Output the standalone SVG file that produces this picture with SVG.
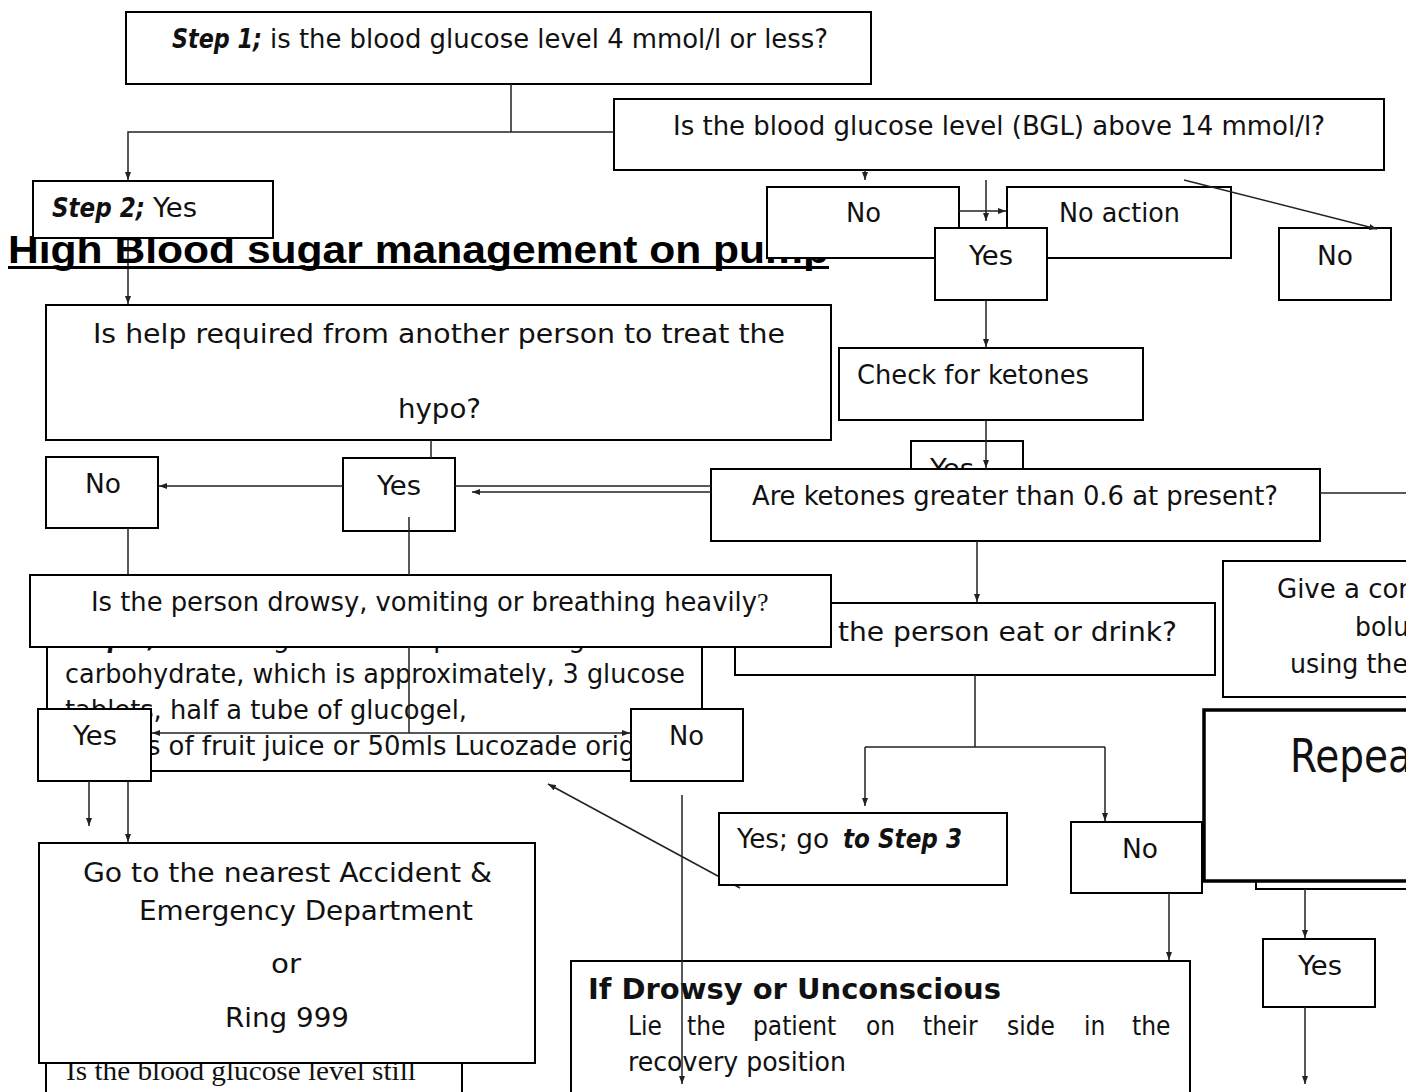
<svg xmlns="http://www.w3.org/2000/svg" width="1406" height="1092" viewBox="0 0 1406 1092">
<defs>
<style>
.box{fill:#fff;stroke:#000;stroke-width:2}
.thick{stroke-width:3.5}
.t{font-family:"DejaVu Sans Condensed","DejaVu Sans",sans-serif;font-size:26px;fill:#111}
.bi{font-weight:bold;font-style:italic}
.b{font-weight:bold}
.serif{font-family:"Liberation Serif",serif}
.c{fill:none;stroke:#222;stroke-width:1.5}
.title{font-family:"Liberation Sans",Arial,sans-serif;font-weight:bold;font-size:38px;fill:#000}
</style>
<marker id="arr" viewBox="0 0 8 6" refX="8" refY="3" markerWidth="8" markerHeight="6" markerUnits="userSpaceOnUse" orient="auto-start-reverse">
<path d="M0,0 L8,3 L0,6 z" fill="#222"/>
</marker>
</defs>
<rect width="1406" height="1092" fill="#fff"/>

<g id="connectors-under">
<path class="c" d="M128,238 V304" marker-end="url(#arr)"/>
<path class="c" d="M740,888 L548,784" marker-end="url(#arr)"/>
</g>

<g id="heading">
<text class="title" x="8" y="263" textLength="821" lengthAdjust="spacingAndGlyphs">High Blood sugar management on pump</text>
<rect x="8" y="266" width="821" height="3" fill="#000"/>
</g>

<g id="step1"><rect class="box" x="126" y="12" width="745" height="72"/>
<text class="t" y="48"><tspan class="bi" x="172" textLength="90" lengthAdjust="spacingAndGlyphs">Step 1;</tspan><tspan x="270" textLength="558" lengthAdjust="spacingAndGlyphs">is the blood glucose level 4 mmol/l or less?</tspan></text></g>

<g id="bgl"><rect class="box" x="614" y="99" width="770" height="71"/>
<text class="t" x="673" y="135" textLength="652" lengthAdjust="spacingAndGlyphs">Is the blood glucose level (BGL) above 14 mmol/l?</text></g>

<g id="step2"><rect class="box" x="33" y="181" width="240" height="57"/>
<text class="t" y="217"><tspan class="bi" x="52" textLength="93" lengthAdjust="spacingAndGlyphs">Step 2;</tspan><tspan x="153" textLength="44" lengthAdjust="spacingAndGlyphs">Yes</tspan></text></g>

<g id="no-top"><rect class="box" x="767" y="187" width="192" height="71"/>
<text class="t" x="846" y="222" textLength="35" lengthAdjust="spacingAndGlyphs">No</text></g>

<g id="no-action"><rect class="box" x="1007" y="187" width="224" height="71"/>
<text class="t" x="1059" y="222" textLength="121" lengthAdjust="spacingAndGlyphs">No action</text></g>

<g id="yes-top"><rect class="box" x="935" y="228" width="112" height="72"/>
<text class="t" x="969" y="265" textLength="44" lengthAdjust="spacingAndGlyphs">Yes</text></g>

<g id="no-right"><rect class="box" x="1279" y="228" width="112" height="72"/>
<text class="t" x="1317" y="265" textLength="36" lengthAdjust="spacingAndGlyphs">No</text></g>

<g id="help"><rect class="box" x="46" y="305" width="785" height="135"/>
<text class="t" x="93" y="343" textLength="692" lengthAdjust="spacingAndGlyphs">Is help required from another person to treat the</text>
<text class="t" x="398" y="418" textLength="83" lengthAdjust="spacingAndGlyphs">hypo?</text></g>

<g id="check-ketones"><rect class="box" x="839" y="348" width="304" height="72"/>
<text class="t" x="857" y="384" textLength="232" lengthAdjust="spacingAndGlyphs">Check for ketones</text></g>

<g id="no-left"><rect class="box" x="46" y="457" width="112" height="71"/>
<text class="t" x="85" y="493" textLength="36" lengthAdjust="spacingAndGlyphs">No</text></g>

<g id="yes-left"><rect class="box" x="343" y="458" width="112" height="73"/>
<text class="t" x="377" y="495" textLength="44" lengthAdjust="spacingAndGlyphs">Yes</text></g>

<g id="yes-hidden"><rect class="box" x="911" y="441" width="112" height="60"/>
<text class="t" x="930" y="478" textLength="44" lengthAdjust="spacingAndGlyphs">Yes</text></g>

<g id="ketones"><rect class="box" x="711" y="469" width="609" height="72"/>
<text class="t" x="752" y="505" textLength="526" lengthAdjust="spacingAndGlyphs">Are ketones greater than 0.6 at present?</text></g>

<g id="treatment"><rect class="box" x="47" y="620" width="655" height="151"/>
<text class="t" y="647"><tspan class="bi" x="65" textLength="92" lengthAdjust="spacingAndGlyphs">Step 3;</tspan><tspan x="165" textLength="420" lengthAdjust="spacingAndGlyphs">take 15 grams of a quick acting</tspan></text>
<text class="t" x="65" y="683" textLength="620" lengthAdjust="spacingAndGlyphs">carbohydrate, which is approximately, 3 glucose</text>
<text class="t" x="65" y="719" textLength="402" lengthAdjust="spacingAndGlyphs">tablets, half a tube of glucogel,</text>
<text class="t" x="65" y="755" textLength="617" lengthAdjust="spacingAndGlyphs">150mls of fruit juice or 50mls Lucozade original</text></g>

<g id="eat"><rect class="box" x="735" y="603" width="480" height="72"/>
<text class="t" x="838" y="641" textLength="339" lengthAdjust="spacingAndGlyphs">the person eat or drink?</text></g>

<g id="drowsy"><rect class="box" x="30" y="575" width="801" height="72"/>
<text class="t" y="611"><tspan x="91" textLength="666" lengthAdjust="spacingAndGlyphs">Is the person drowsy, vomiting or breathing heavily</tspan><tspan class="serif" x="757">?</tspan></text></g>

<g id="give"><rect class="box" x="1223" y="561" width="200" height="136"/>
<text class="t" x="1277" y="598" textLength="132" lengthAdjust="spacingAndGlyphs">Give a cor</text>
<text class="t" x="1355" y="636" textLength="54" lengthAdjust="spacingAndGlyphs">bolu</text>
<text class="t" x="1290" y="673" textLength="118" lengthAdjust="spacingAndGlyphs">using the</text></g>

<g id="yes-lower-left"><rect class="box" x="38" y="709" width="113" height="72"/>
<text class="t" x="73" y="745" textLength="44" lengthAdjust="spacingAndGlyphs">Yes</text></g>

<g id="no-lower-mid"><rect class="box" x="631" y="709" width="112" height="72"/>
<text class="t" x="669" y="745" textLength="35" lengthAdjust="spacingAndGlyphs">No</text></g>

<g id="still"><rect class="box" x="46" y="1000" width="416" height="120"/>
<text class="serif" x="66" y="1080" font-size="27" fill="#111" textLength="350" lengthAdjust="spacingAndGlyphs">Is the blood glucose level still</text></g>

<g id="a-and-e"><rect class="box" x="39" y="843" width="496" height="220"/>
<text class="t" x="83" y="882" textLength="409" lengthAdjust="spacingAndGlyphs">Go to the nearest Accident &amp;</text>
<text class="t" x="139" y="920" textLength="334" lengthAdjust="spacingAndGlyphs">Emergency Department</text>
<text class="t" x="271" y="973" textLength="30" lengthAdjust="spacingAndGlyphs">or</text>
<text class="t" x="225" y="1027" textLength="124" lengthAdjust="spacingAndGlyphs">Ring 999</text></g>

<g id="yes-go"><rect class="box" x="719" y="813" width="288" height="72"/>
<text class="t" y="848"><tspan x="737" textLength="92" lengthAdjust="spacingAndGlyphs">Yes; go</tspan><tspan class="bi" x="843" textLength="119" lengthAdjust="spacingAndGlyphs">to Step 3</tspan></text></g>

<g id="no-mid-right"><rect class="box" x="1071" y="822" width="131" height="71"/>
<text class="t" x="1122" y="858" textLength="36" lengthAdjust="spacingAndGlyphs">No</text></g>

<g id="repeat-back"><rect class="box" x="1256" y="720" width="200" height="169"/></g>

<g id="repeat"><rect class="box thick" x="1204" y="710" width="230" height="171"/>
<text class="t" x="1290" y="772" textLength="122" lengthAdjust="spacingAndGlyphs" style="font-size:46px">Repea</text></g>

<g id="yes-bottom-right"><rect class="box" x="1263" y="939" width="112" height="68"/>
<text class="t" x="1298" y="975" textLength="44" lengthAdjust="spacingAndGlyphs">Yes</text></g>

<g id="if-drowsy"><rect class="box" x="571" y="961" width="619" height="150"/>
<text class="t b" x="588" y="999" textLength="413" lengthAdjust="spacingAndGlyphs" style="font-size:28px">If Drowsy or Unconscious</text>
<text class="t" y="1035"><tspan x="628">Lie</tspan><tspan x="687">the</tspan><tspan x="753">patient</tspan><tspan x="866">on</tspan><tspan x="923">their</tspan><tspan x="1007">side</tspan><tspan x="1084">in</tspan><tspan x="1132">the</tspan></text>
<text class="t" x="628" y="1071" textLength="218" lengthAdjust="spacingAndGlyphs">recovery position</text></g>

<g id="connectors">
<path class="c" d="M511,84 V132"/>
<path class="c" d="M614,132 H128 V180" marker-end="url(#arr)"/>
<path class="c" d="M865,170 V180" marker-end="url(#arr)"/>
<path class="c" d="M986,180 V221" marker-end="url(#arr)"/>
<path class="c" d="M959,211 H1006" marker-end="url(#arr)"/>
<path class="c" d="M1184,180 L1377,229" marker-end="url(#arr)"/>
<path class="c" d="M986,300 V347" marker-end="url(#arr)"/>
<path class="c" d="M986,420 V468" marker-end="url(#arr)"/>
<path class="c" d="M431,440 V458"/>
<path class="c" d="M343,486 H159" marker-end="url(#arr)"/>
<path class="c" d="M711,486 H455"/>
<path class="c" d="M711,492 H472" marker-end="url(#arr)"/>
<path class="c" d="M128,528 V575"/>
<path class="c" d="M409,517 V575"/>
<path class="c" d="M409,647 V733"/>
<path class="c" d="M152,733 H630" marker-start="url(#arr)" marker-end="url(#arr)"/>
<path class="c" d="M977,541 V602" marker-end="url(#arr)"/>
<path class="c" d="M1320,493 H1406"/>
<path class="c" d="M975,675 V747 M865,747 H1105"/>
<path class="c" d="M865,747 V806" marker-end="url(#arr)"/>
<path class="c" d="M1105,747 V821" marker-end="url(#arr)"/>
<path class="c" d="M89,781 V826" marker-end="url(#arr)"/>
<path class="c" d="M128,781 V842" marker-end="url(#arr)"/>
<path class="c" d="M682,795 V1084" marker-end="url(#arr)"/>
<path class="c" d="M1169,893 V960" marker-end="url(#arr)"/>
<path class="c" d="M1305,889 V938" marker-end="url(#arr)"/>
<path class="c" d="M1305,1007 V1084" marker-end="url(#arr)"/>
</g>
</svg>
